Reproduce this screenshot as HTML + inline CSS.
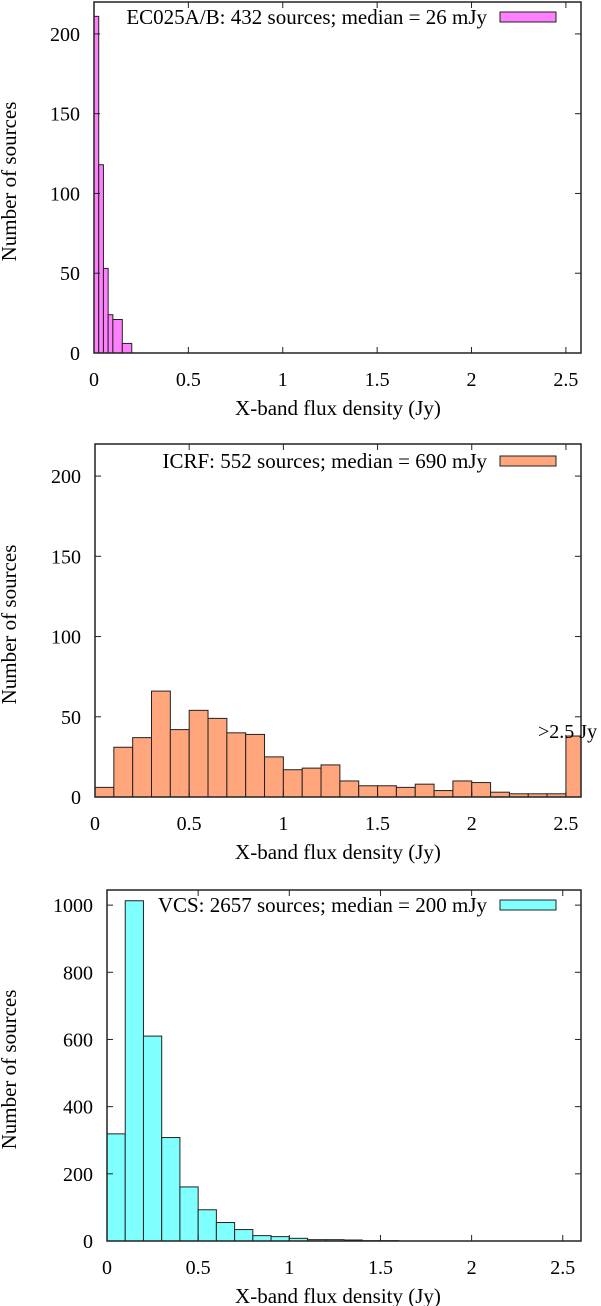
<!DOCTYPE html>
<html><head><meta charset="utf-8">
<style>
html,body{margin:0;padding:0;background:#fff;}
svg{display:block;font-family:"Liberation Serif",serif;}
</style></head>
<body>
<svg id="chart" width="601" height="1306" viewBox="0 0 601 1306" xmlns="http://www.w3.org/2000/svg"></svg>
<script>
// Panel 1: EC025A/B
const p1Edges = [0,0.025,0.05,0.075,0.1,0.15,0.2];
const p1Counts = [211,118,53,24,21,6];
// Panel 2: ICRF (bins of 0.1 Jy, last bin is >2.5 Jy)
const p2Edges = [0,0.1,0.2,0.3,0.4,0.5,0.6,0.7,0.8,0.9,1.0,1.1,1.2,1.3,1.4,1.5,1.6,1.7,1.8,1.9,2.0,2.1,2.2,2.3,2.4,2.5,2.58];
const p2Counts = [6,31,37,66,42,54,49,40,39,25,17,18,20,10,7,7,6,8,4,10,9,3,2,2,2,38];
// Panel 3: VCS
const p3Edges = [0,0.1,0.2,0.3,0.4,0.5,0.6,0.7,0.8,0.9,1.0,1.1,1.2,1.3,1.4,1.5,1.6];
const p3Counts = [319,1013,610,308,161,93,55,34,16,13,8,4,4,3,1,1];
const xTicks = [0,0.5,1,1.5,2,2.5];
const xTickLabels = ["0","0.5","1","1.5","2","2.5"];
const yTicksA = [0,50,100,150,200];
const yTicksB = [0,200,400,600,800,1000];

const NS = "http://www.w3.org/2000/svg";
const svg = document.getElementById('chart');
function mk(tag, attrs, parent){
  const e = document.createElementNS(NS, tag);
  for (const k in attrs) e.setAttribute(k, attrs[k]);
  (parent||svg).appendChild(e);
  return e;
}

const panels = [
  {id:'ec025', left:94, right:581, top:2, bottom:353, xmax:2.58, ymax:220, yTicks:yTicksA,
   edges:p1Edges, counts:p1Counts, color:'#ff80ff',
   legend:'EC025A/B: 432 sources; median = 26 mJy', legY:17, sw:[500,556]},
  {id:'icrf', left:95, right:581, top:444, bottom:797, xmax:2.58, ymax:220, yTicks:yTicksA,
   edges:p2Edges, counts:p2Counts, color:'#ffa67c',
   legend:'ICRF: 552 sources; median = 690 mJy', legY:461, sw:[500,556], extra:true},
  {id:'vcs', left:107, right:581, top:890, bottom:1241, xmax:2.6, ymax:1045, yTicks:yTicksB,
   edges:p3Edges, counts:p3Counts, color:'#80ffff',
   legend:'VCS: 2657 sources; median = 200 mJy', legY:905, sw:[500,556]}
];

panels.forEach(p=>{
  const g = mk('g', {});
  
  
  const xs = v => p.left + v*(p.right-p.left)/p.xmax;
  const ys = v => p.bottom - v*(p.bottom-p.top)/p.ymax;
  p.counts.forEach((c,i)=>{
    const x0 = xs(p.edges[i]), x1 = Math.min(xs(p.edges[i+1]), p.right);
    const r = mk('rect', {x:x0, y:ys(c), width:x1-x0, height:p.bottom-ys(c), fill:p.color, stroke:'#222', 'stroke-width':1}, g);
    
    
  });
  const fr = mk('rect', {x:p.left, y:p.top, width:p.right-p.left, height:p.bottom-p.top, fill:'none', stroke:'#222', 'stroke-width':1.5}, g);
  
  
  xTicks.forEach((t,i)=>{
    const x = xs(t);
    mk('line', {x1:x, x2:x, y1:p.bottom, y2:p.bottom-6, stroke:'#222', 'stroke-width':1}, g);
    mk('line', {x1:x, x2:x, y1:p.top, y2:p.top+6, stroke:'#222', 'stroke-width':1}, g);
    const tx = mk('text', {x:x, y:p.bottom+33, 'font-size':20, 'text-anchor':'middle'}, g);
    tx.textContent = xTickLabels[i];
    
    
  });
  p.yTicks.forEach(t=>{
    const y = ys(t);
    mk('line', {x1:p.left, x2:p.left+6, y1:y, y2:y, stroke:'#222', 'stroke-width':1}, g);
    mk('line', {x1:p.right, x2:p.right-6, y1:y, y2:y, stroke:'#222', 'stroke-width':1}, g);
    const ty = mk('text', {x:p.left-14, y:y+7, 'font-size':20, 'text-anchor':'end'}, g);
    ty.textContent = String(t);
    
    
  });
  const xt = mk('text', {x:338, y:p.bottom+62, 'font-size':21, 'text-anchor':'middle'}, g);
  xt.textContent = 'X-band flux density (Jy)';
  
  
  const cy = (p.top+p.bottom)/2 + 4;
  const yt = mk('text', {x:16, y:cy, 'font-size':21, 'text-anchor':'middle', transform:'rotate(-90 16 '+cy+')'}, g);
  yt.textContent = 'Number of sources';
  
  
  const lt = mk('text', {x:487, y:p.legY+7, 'font-size':21, 'text-anchor':'end'}, g);
  lt.textContent = p.legend;
  
  
  const ls = mk('rect', {x:p.sw[0], y:p.legY-5, width:p.sw[1]-p.sw[0], height:10, fill:p.color, stroke:'#222', 'stroke-width':1}, g);
  
  
  if (p.extra){
    const ann = mk('text', {x:538, y:738, 'font-size':20}, g);
    ann.textContent = '>2.5 Jy';
    
    
  }
});
</script>
</body></html>
